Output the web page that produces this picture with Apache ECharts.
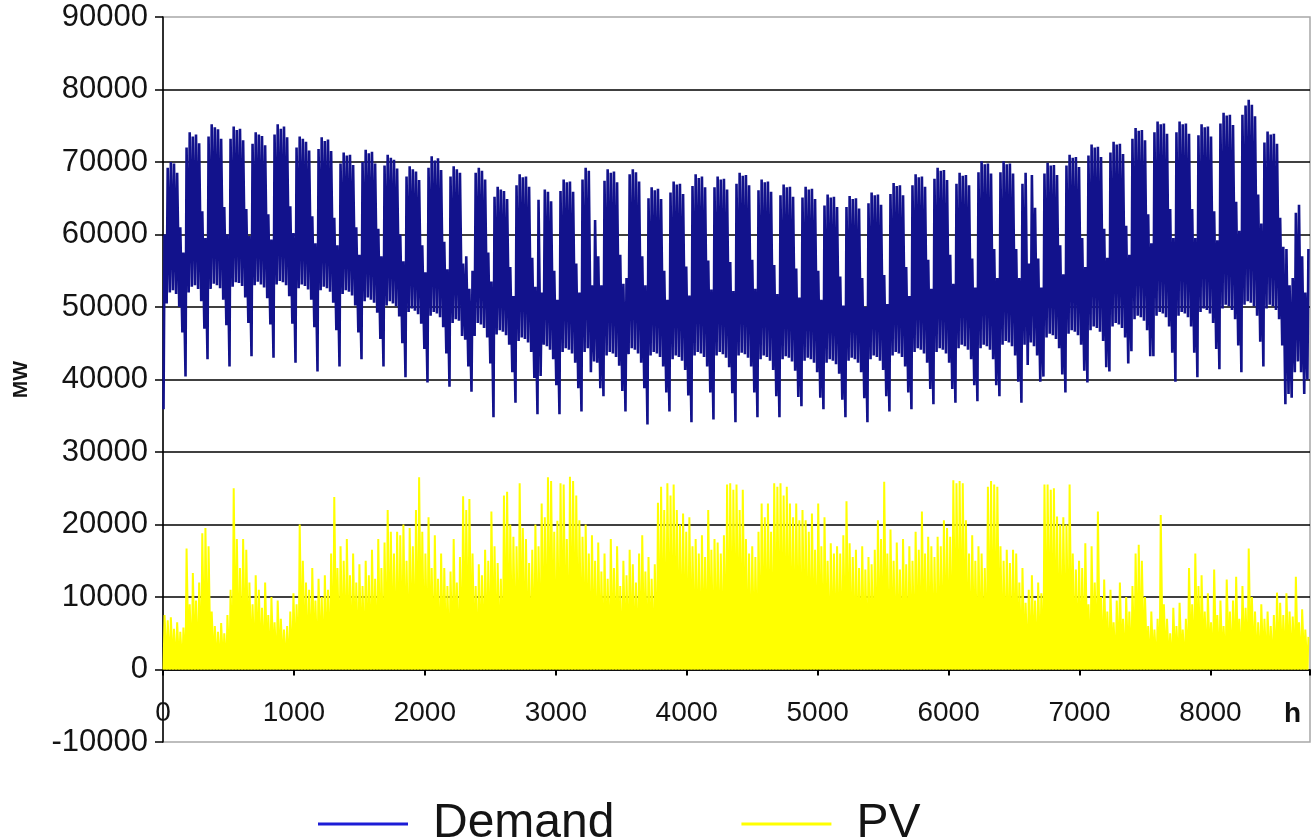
<!DOCTYPE html>
<html>
<head>
<meta charset="utf-8">
<title>Demand and PV</title>
<script src="https://cdn.jsdelivr.net/npm/echarts@6/dist/echarts.min.js"></script>
<style>
  html, body { margin: 0; padding: 0; background: #ffffff; }
  #chart { width: 1313px; height: 837px; }
</style>
</head>
<body>
<div id="chart"></div>
<script>
// Hourly axis: one year of hours, ticks every 1000 h
const xTicks = [0, 1000, 2000, 3000, 4000, 5000, 6000, 7000, 8000];
const yTicks = [-10000, 0, 10000, 20000, 30000, 40000, 50000, 60000, 70000, 80000, 90000];

// Demand, MW: night minimum of each day (about 04:00), one row per week (Mon..Sun)
const demandLow = [
  35900, 50500, 52000, 52300, 51800, 50000, 46500,
  40400, 52000, 52800, 53000, 52500, 50800, 47000,
  42800, 52500, 53200, 53000, 52600, 51000, 47500,
  41800, 52800, 53400, 53300, 52900, 51300, 47800,
  43200, 53000, 53500, 53100, 52700, 51200, 47600,
  43000, 53100, 53600, 53400, 53000, 51500, 47700,
  42300, 52600, 53100, 52900, 52400, 51000, 47200,
  41100, 52300, 52800, 52600, 52100, 50600, 46800,
  41800, 51800, 52300, 52100, 51600, 50200, 46500,
  42800, 50800, 51300, 51000, 50600, 49200, 45600,
  41800, 50200, 50800, 50500, 50100, 48700, 45000,
  40300, 49300, 49800, 49500, 49000, 47700, 44200,
  39600, 48800, 49300, 49100, 48600, 47200, 43600,
  39000, 47800, 48300, 48100, 46000, 45500, 41800,
  38300, 46000, 47800, 47600, 47100, 45800, 42200,
  34800, 46200, 46800, 46600, 46100, 44800, 41000,
  36800, 45300, 45800, 45600, 45100, 43800, 40200,
  35200, 40500, 44800, 44600, 44100, 42800, 39200,
  35200, 43800, 44300, 44100, 43600, 42300, 38800,
  35600, 43800, 44300, 41000, 42500, 42300, 38800,
  37700, 43300, 43800, 43600, 43100, 41900, 38400,
  35600, 43500, 44300, 44100, 43600, 42300, 38800,
  33800, 43300, 43800, 43600, 43100, 41800, 38200,
  35600, 42800, 43300, 43100, 42600, 41300, 37800,
  34100, 43300, 43800, 43600, 43100, 41800, 38200,
  34500, 43300, 43800, 43500, 43000, 41700, 38100,
  34100, 43300, 43700, 43500, 43000, 41800, 38200,
  34800, 42800, 43300, 43100, 42600, 41300, 37700,
  34800, 42800, 43200, 43000, 42500, 41200, 37600,
  36300, 42600, 43000, 42800, 42300, 41000, 37500,
  35900, 42300, 42800, 42600, 42100, 40800, 37200,
  34800, 42600, 43000, 42800, 42300, 41000, 37400,
  34100, 42800, 43300, 43100, 42600, 41300, 37700,
  35600, 43300, 43800, 43600, 43100, 41800, 38200,
  35900, 43800, 44300, 44100, 43600, 42300, 38700,
  36600, 43800, 44300, 44100, 43600, 42300, 38700,
  36800, 44300, 44800, 44600, 44100, 42800, 39200,
  37000, 44300, 44800, 44600, 44100, 42800, 39200,
  37700, 44800, 45300, 45100, 44600, 43300, 39700,
  36800, 44800, 42000, 45100, 44600, 43300, 39700,
  40400, 45800, 46300, 46100, 45600, 44300, 40700,
  38200, 46300, 46800, 46600, 46100, 44800, 41200,
  39600, 46800, 47300, 47100, 46600, 45300, 41700,
  41100, 47300, 47800, 47600, 47100, 45800, 42200,
  43900, 48300, 48800, 48600, 48100, 46800, 43200,
  43200, 48800, 49300, 49100, 48600, 47300, 43700,
  39700, 48800, 49300, 49100, 48600, 47300, 43700,
  40300, 49300, 49800, 49600, 49100, 47800, 44200,
  41400, 49800, 50300, 50100, 49600, 48300, 44700,
  41000, 50300, 50800, 50600, 50100, 48800, 45200,
  41800, 49800, 50300, 50100, 49600, 48300, 44700,
  36600, 38000, 37500, 41000, 42500, 41000, 38000,
  40000
];

// Demand, MW: daytime maximum of each day (about 12:00)
const demandHigh = [
  60000, 69200, 70000, 69800, 68500, 61000, 57500,
  72000, 74100, 73500, 73800, 72600, 63200, 59500,
  73500, 75200, 74800, 74500, 73200, 63800, 60000,
  73200, 74900, 74400, 74600, 73000, 63500, 59800,
  72500, 74100, 73800, 73600, 72300, 62800, 59300,
  73800, 75200, 74600, 74900, 73400, 63900, 60200,
  72000, 73500, 73200, 72800, 71600, 62500, 58800,
  71800, 73400, 72900, 73100, 71500, 62300, 58500,
  69800, 71300, 70900, 71000, 69600, 61000, 57200,
  70000, 71700, 71200, 71400, 69800, 60800, 57000,
  69500, 71000, 70600, 70300, 69100, 60000, 56300,
  68000, 69400, 69000, 68700, 67500, 58500, 54800,
  69200, 70800, 70200, 70500, 68900, 59000, 55200,
  68000, 69400, 69000, 68500, 56000, 57000, 52500,
  55000, 68500, 69200, 68800, 67600, 57500, 53500,
  65200, 66600, 66200, 66000, 64900, 55500, 51500,
  66800, 68300, 67900, 68000, 66600, 56800, 52800,
  64800, 52000, 66200, 65900, 64600, 55000, 51000,
  66000, 67600, 67200, 67300, 65900, 56000, 52000,
  67600, 69200, 68800, 53000, 62000, 57000, 53000,
  67400, 69000, 68500, 68700, 67200, 57200, 53200,
  54000, 68300, 69000, 68600, 67300, 57000, 53000,
  65000, 66500, 66100, 66300, 64900, 55000, 51000,
  65800, 67300, 66900, 67000, 65600, 55600, 51600,
  66700, 68300, 67800, 68000, 66500, 56400, 52400,
  66500, 68000, 67600, 67700, 66200, 56200, 52200,
  67000, 68500, 68100, 68200, 66800, 56500, 52500,
  66100, 67600, 67200, 67300, 65900, 55800, 51800,
  65400, 66900, 66500, 66600, 65200, 55300, 51300,
  65100, 66600, 66200, 66300, 64900, 55000, 51000,
  64000, 65500, 65100, 65200, 63800, 54200, 50200,
  63800, 65300, 64900, 65000, 63600, 54000, 50000,
  64300, 65800, 65400, 65500, 64100, 54400, 50400,
  65600, 67100, 66700, 66800, 65400, 55500, 51500,
  66800, 68300, 67900, 68000, 66600, 56500, 52500,
  67700, 69200, 68800, 68900, 67500, 57200, 53200,
  67000, 68500, 68100, 68200, 66800, 56700, 52700,
  68600, 70100, 69700, 69800, 68400, 58000, 54000,
  68600, 70100, 69700, 69800, 68400, 58000, 54000,
  67000, 68500, 56000, 68200, 63700, 56700, 52700,
  68400, 69900, 69500, 69600, 68200, 58500, 54500,
  69500, 71000, 70600, 70700, 69300, 59500, 55500,
  70900, 72400, 72000, 72100, 70700, 60800, 56800,
  71300, 72800, 72400, 72500, 71100, 61200, 57200,
  73200, 74700, 74300, 74400, 73000, 62800, 58800,
  74100, 75600, 75200, 75300, 73900, 63500, 59500,
  74100, 75600, 75200, 75300, 73900, 63500, 59500,
  73700, 75200, 74800, 74900, 73500, 63200, 59200,
  75300, 76800, 76400, 76500, 75100, 64500, 60500,
  76500, 77800, 78600, 77900, 76300, 65500, 61500,
  72700, 74200, 73800, 73900, 72500, 62300, 58300,
  58000, 53000, 54000, 63000, 64100, 57000, 52000,
  58000
];

// PV, MW: midday peak of each day (zero at night), ten days per row
const pvPeak = [
  7500, 6800, 7200, 5600, 6500, 5200, 5800, 16700, 9000, 13300,
  9500, 12000, 18800, 19500, 17000, 8000, 6000, 5200, 6400, 5000,
  7500, 11000, 25000, 18000, 14000, 18000, 16500, 12000, 9000, 13000,
  11000, 8500, 12000, 7500, 10000, 6500, 9500, 7000, 5500, 6000,
  8000, 10500, 9000, 20000, 15000, 12000, 11000, 14000, 9500, 12500,
  10000, 13000, 11000, 16000, 23800, 14000, 17000, 15000, 18000, 13000,
  16000, 12000, 14500, 11500, 15000, 13000, 16500, 12500, 18000, 14000,
  17500, 22000, 19000, 16000, 19000, 18500, 20000, 15000, 19500, 17000,
  22000, 26500, 19000, 16000, 21000, 14000, 18500, 12500, 16000, 14000,
  11500, 13500, 18000, 12000, 15500, 23900, 22000, 23500, 16000, 11500,
  14500, 13000, 16500, 15000, 21800, 17000, 14700, 12500, 24000, 24500,
  20000, 18300, 17000, 25700, 19500, 18000, 14700, 16500, 20000, 17000,
  22900, 21000, 26500, 26000, 19000, 20500, 25700, 25500, 18000, 26600,
  26000, 24000, 20600, 18300, 20000, 16000, 18500, 15000, 17500, 13500,
  16000, 12500, 18000, 14000, 17000, 11500, 15000, 13000, 16500, 14500,
  12000, 16000, 18500, 13500, 15500, 12500, 14500, 23000, 25200, 22000,
  25700, 24000, 25500, 22000, 20000, 21500, 19000, 21000, 17000, 18000,
  16000, 18500, 15500, 22000, 16500, 18000, 17500, 16000, 18500, 25500,
  25700, 24800, 25500, 22000, 24800, 18000, 16000, 17000, 15500, 19000,
  22900, 21000, 22900, 19000, 25700, 25200, 25700, 24000, 25200, 22900,
  21000, 22900, 20600, 22000, 20600, 19000, 21500, 16500, 22900, 17000,
  21000, 15000, 17400, 16000, 17000, 16000, 18500, 23200, 17400, 15500,
  16500, 14000, 17000, 13800, 15500, 14500, 16500, 20600, 18000, 25900,
  16000, 19300, 15000, 17500, 13800, 18000, 14500, 17000, 15000, 19000,
  16500, 21800, 16000, 18300, 17000, 15500, 18300, 17000, 20600, 19500,
  18300, 26100, 25700, 26000, 25700, 20600, 16000, 18500, 15000, 17000,
  16000, 14000, 25200, 26000, 25500, 25200, 17000, 15000, 16500, 14700,
  16500, 16000, 12000, 14000, 9200, 11000, 13000, 9500, 12000, 10500,
  25500, 25500, 24800, 25000, 21100, 20000, 21000, 20000, 25500, 16000,
  13800, 15000, 14000, 17400, 9000, 17000, 12000, 21800, 10000, 12400,
  8000, 11000, 6500, 9500, 12000, 7000, 10000, 8000, 11500, 16000,
  17200, 15000, 10000, 6000, 8000, 5500, 7000, 21300, 9000, 7000,
  5000, 8500, 6000, 9200, 5500, 7000, 14000, 9000, 16000, 11500,
  13000, 8000, 10500, 6500, 13800, 7500, 9500, 6000, 12400, 8000,
  9500, 12800, 7000, 11500, 8500, 16700, 10000, 8000, 6500, 9000,
  7000, 8000, 6000, 7500, 10600, 9200, 7500, 10500, 8000, 7300,
  12800, 6500, 8300, 5500, 4500
];

// Hour-of-day at which the daily extremes are placed
const LOW_HOUR = 4;
const HIGH_HOUR = 12;

const demandPoints = [];
demandLow.forEach(function (lo, d) {
  demandPoints.push([d * 24 + LOW_HOUR, lo]);
  demandPoints.push([d * 24 + HIGH_HOUR, demandHigh[d]]);
});

const pvPoints = [];
pvPeak.forEach(function (pk, d) {
  pvPoints.push([d * 24 + LOW_HOUR, 0]);
  pvPoints.push([d * 24 + HIGH_HOUR, pk]);
});

const FONT = "'Liberation Sans', Arial, Helvetica, sans-serif";
const TEXT = '#141414';

const chart = echarts.init(document.getElementById('chart'), null, { renderer: 'canvas' });

chart.setOption({
  animation: false,
  backgroundColor: '#ffffff',
  grid: {
    left: 163, right: 2, top: 17, bottom: 95,
    show: true, borderColor: '#a8a8a8', borderWidth: 1.5, backgroundColor: 'transparent'
  },
  legend: {
    left: 313, top: 795,
    icon: 'rect', itemWidth: 90, itemHeight: 3, itemGap: 127,
    textStyle: { fontSize: 48, color: TEXT, fontFamily: FONT, padding: [0, 0, 0, 20] },
    data: [
      { name: 'Demand', itemStyle: { color: '#1c1cd6' } },
      { name: 'PV', itemStyle: { color: '#ffff00' } }
    ]
  },
  xAxis: {
    type: 'value',
    min: xTicks[0], max: 8760, interval: xTicks[1] - xTicks[0],
    axisLine: { show: true, onZero: true, lineStyle: { color: '#000', width: 1.5 } },
    axisTick: { show: true, length: 6, lineStyle: { color: '#000', width: 2 } },
    axisLabel: {
      margin: -43, fontSize: 28, color: TEXT, fontFamily: FONT,
      formatter: function (v) { return xTicks.indexOf(v) >= 0 ? String(v) : ''; }
    },
    splitLine: { show: false }
  },
  yAxis: {
    type: 'value',
    min: yTicks[0], max: yTicks[yTicks.length - 1], interval: yTicks[1] - yTicks[0],
    name: 'MW', nameLocation: 'middle', nameGap: 131,
    nameTextStyle: { fontSize: 21, fontWeight: 'bold', color: TEXT, fontFamily: FONT },
    axisLine: { show: true, lineStyle: { color: '#000', width: 1.5 } },
    axisTick: { show: true, length: 8, lineStyle: { color: '#000', width: 1.5 } },
    axisLabel: {
      margin: 15, fontSize: 31, color: TEXT, fontFamily: FONT,
      formatter: function (v) { return String(v); }
    },
    splitLine: {
      show: true, showMinLine: false, showMaxLine: false,
      lineStyle: { color: '#000', width: 1.5 }
    }
  },
  graphic: [{
    type: 'text', left: 1284, top: 700,
    style: { text: 'h', fontSize: 28, fontWeight: 'bold', fill: '#111', fontFamily: FONT }
  }],
  series: [
    {
      name: 'Demand', type: 'line', data: demandPoints,
      symbol: 'none', showSymbol: false, z: 2,
      lineStyle: { color: '#12128c', width: 2.6 },
      itemStyle: { color: '#12128c' }
    },
    {
      name: 'PV', type: 'line', data: pvPoints,
      symbol: 'none', showSymbol: false, z: 3,
      lineStyle: { color: '#ffff00', width: 2 },
      itemStyle: { color: '#ffff00' },
      areaStyle: { color: '#ffff00', opacity: 1 }
    }
  ]
});
</script>
</body>
</html>
